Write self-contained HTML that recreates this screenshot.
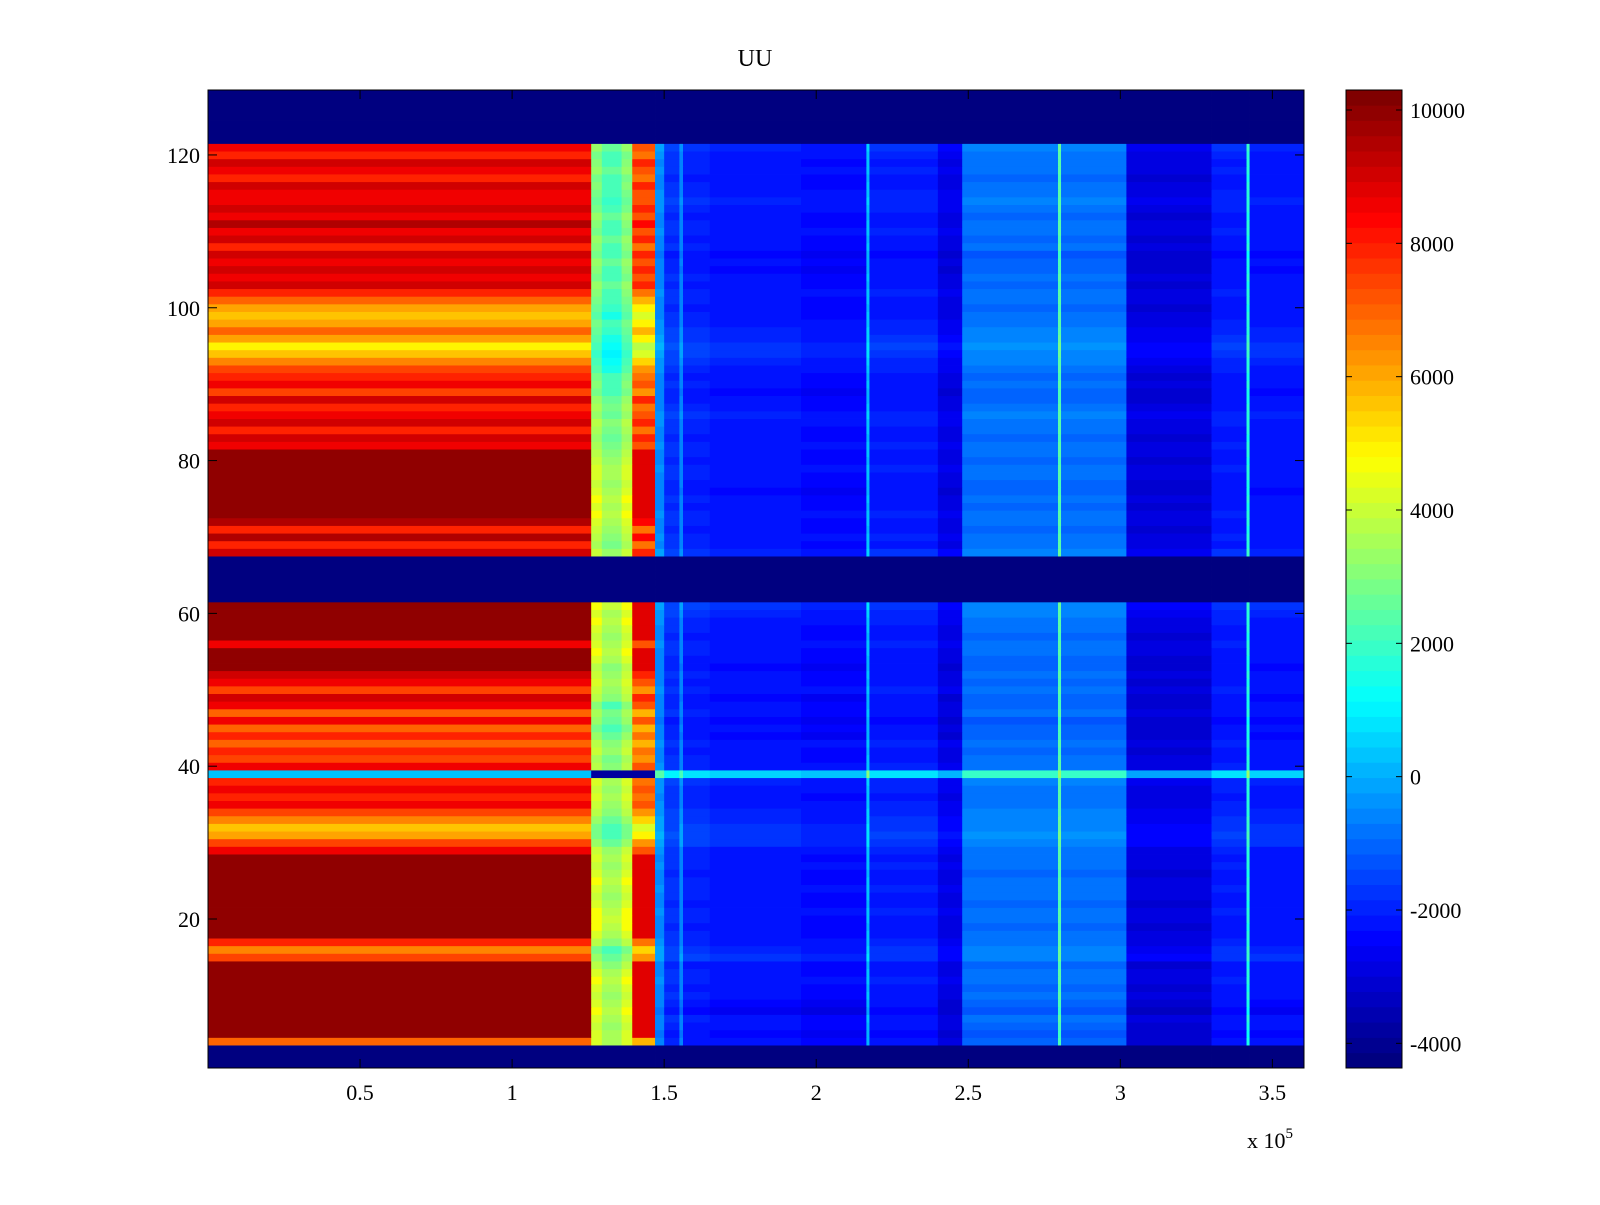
<!DOCTYPE html>
<html><head><meta charset="utf-8"><style>
html,body{margin:0;padding:0;background:#fff;}
svg text{font-family:"Liberation Serif",serif;fill:#000;}
</style></head><body>
<svg id="chart" width="1600" height="1200" xmlns="http://www.w3.org/2000/svg">
<rect width="1600" height="1200" fill="#fff"/>
<text x="755" y="66" font-size="24" text-anchor="middle">UU</text>
<g id="cells"></g>
<g id="axes"></g>
<g id="cbar"></g>
</svg>
<script>
// ---- data ----
const segEdges = [0,1.26,1.295,1.36,1.395,1.47,1.50,1.55,1.562,1.65,1.95,2.165,2.175,2.40,2.48,2.795,2.805,3.02,3.30,3.415,3.425,3.604];
const segKind  = ['red','mid','core','mid','dred','blue','blue','blue','blue','blue','blue','blue','blue','blue','blue','blue','blue','blue','blue','blue','blue'];
const segBlue  = [0,0,0,0,0,-300,-1600,-400,-1800,-2000,-2200,500,-1900,-2600,-700,2500,-700,-2700,-1900,1800,-2000];
const rowRed = [
-4300,-4300,-4300,7000,10000,10000,10000,10000,10000,10000,
10000,10000,10000,10000,7500,6500,8000,10000,10000,10000,
10000,10000,10000,10000,10000,10000,10000,10000,8500,7500,
6000,5500,6500,7500,8500,8000,8500,8000,0,8500,
7500,8000,7000,8000,7000,8500,7000,8500,9000,7500,
8500,9000,10000,10000,10000,8500,10000,10000,10000,10000,
10000,-4300,-4300,-4300,-4300,-4300,-4300,9000,8000,9500,
8000,9500,10000,10000,10000,10000,10000,10000,10000,10000,
10000,8500,9000,8000,9000,8500,8000,9000,7500,8500,
8000,7500,6500,5500,5000,6000,7000,6000,5500,6000,
7000,8000,9000,8500,9000,8500,9000,8000,9000,8500,
9500,8500,9000,8500,8500,9000,8000,8500,9000,8000,
8500,-4300,-4300,-4300,-4300,-4300,-4300,-4300];
const rowBlue = [
0,0,0,-300,-500,-300,-200,-600,-400,-200,-300,-100,-200,-300,200,100,-100,-200,-300,-200,
-100,-300,-200,-100,-200,-300,-100,-200,-100,200,300,200,100,0,-100,-200,-100,0,2600,-100,
-200,-300,-100,-400,-300,-500,-200,-300,-400,-100,-300,-200,-400,-300,-200,-100,-300,-200,-100,0,
200,0,0,0,0,0,0,100,-200,-100,-300,-200,-100,-300,-200,-400,-300,-200,-100,-300,
-200,-100,-300,-200,-100,0,-200,-300,-400,-200,-300,-100,0,200,300,100,0,-100,-200,-300,
-200,-100,-300,-200,-400,-300,-500,-200,-300,-100,-200,-300,-100,0,-100,-200,-300,-100,-200,-100,
100,0,0,0,0,0,0,0];
const rowMidFactor = [
0,0,0,0.45,0.45,0.42,0.45,0.48,0.45,0.42,0.45,0.48,0.45,0.4,0.35,0.3,0.4,0.45,0.48,0.5,
0.48,0.45,0.42,0.45,0.48,0.45,0.42,0.45,0.42,0.35,0.3,0.3,0.35,0.4,0.42,0.45,0.42,0.45,0,0.4,
0.38,0.42,0.4,0.35,0.3,0.35,0.38,0.32,0.4,0.42,0.45,0.42,0.4,0.45,0.48,0.45,0.42,0.45,0.48,0.45,
0.5,0,0,0,0,0,0,0.42,0.38,0.4,0.42,0.45,0.48,0.45,0.48,0.45,0.42,0.45,0.45,0.42,
0.4,0.38,0.35,0.38,0.4,0.35,0.38,0.35,0.3,0.32,0.3,0.25,0.22,0.2,0.22,0.25,0.28,0.3,0.25,0.28,
0.3,0.32,0.35,0.3,0.32,0.35,0.3,0.32,0.35,0.3,0.32,0.35,0.3,0.28,0.3,0.32,0.3,0.35,0.32,0.3,
0.35,0,0,0,0,0,0,0];
const xTicks = [0.5,1,1.5,2,2.5,3,3.5];
const xTickLabels = ['0.5','1','1.5','2','2.5','3','3.5'];
const yTicks = [20,40,60,80,100,120];
const cTicks = [-4000,-2000,0,2000,4000,6000,8000,10000];
const clim = [-4370,10300];
const xRange = [0,3.604], yRange=[0.5,128.5];
// ---- layout ----
const PX0=208,PX1=1304,PY0=90,PY1=1068, CB0=1346,CB1=1402;
const NS='http://www.w3.org/2000/svg';
const xs = v => PX0+(v-xRange[0])/(xRange[1]-xRange[0])*(PX1-PX0);
const ys = v => PY1-(v-yRange[0])/(yRange[1]-yRange[0])*(PY1-PY0);
const cs = v => PY1-(v-clim[0])/(clim[1]-clim[0])*(PY1-PY0);
function jet(t){
  t=Math.max(0,Math.min(1,t)); t=Math.min(63,Math.floor(t*64))/63;
  const f=x=>Math.round(255*Math.max(0,Math.min(1,x)));
  return `rgb(${f(1.5-Math.abs(4*t-3))},${f(1.5-Math.abs(4*t-2))},${f(1.5-Math.abs(4*t-1))})`;
}
const col = v => jet((v-clim[0])/(clim[1]-clim[0]));
function mk(tag,attrs,parent){const e=document.createElementNS(NS,tag);for(const k in attrs)e.setAttribute(k,attrs[k]);parent.appendChild(e);return e;}
function cellValue(r,s){
  const red=rowRed[r];
  if(red<=-4300) return -4300;
  const k=segKind[s];
  if(r===38){ if(k==='red') return 300; if(k==='blue') return Math.min(segBlue[s],800)+rowBlue[r]; return -3800; }
  if(k==='red') return red;
  if(k==='mid') return 4300*rowMidFactor[r]/0.45;
  if(k==='core') return 4300*rowMidFactor[r]/0.45-800;
  if(k==='dred') return red-1200;
  return segBlue[s]+rowBlue[r];
}
const cells=document.getElementById('cells');
for(let r=0;r<rowRed.length;r++){
  for(let s=0;s<segKind.length;s++){
    const x0=xs(segEdges[s]),x1=xs(segEdges[s+1]),y0=ys(r+1.5),y1=ys(r+0.5);
    const e=mk('rect',{x:x0.toFixed(2),y:y0.toFixed(2),width:(x1-x0+0.4).toFixed(2),height:(y1-y0+0.4).toFixed(2),fill:col(cellValue(r,s))},cells);
    
    
  }
}
const ax=document.getElementById('axes');
const fr=mk('rect',{x:PX0,y:PY0,width:PX1-PX0,height:PY1-PY0,fill:'none',stroke:'#000','stroke-width':1},ax);

xTicks.forEach((v,i)=>{
  const x=xs(v);
  mk('line',{x1:x,y1:PY1,x2:x,y2:PY1-9,stroke:'#000'},ax);
  mk('line',{x1:x,y1:PY0,x2:x,y2:PY0+9,stroke:'#000'},ax);
  const t=mk('text',{x:x,y:PY1+32,'font-size':22,'text-anchor':'middle'},ax);
  t.textContent=xTickLabels[i];
  
  
});
yTicks.forEach(v=>{
  const y=ys(v);
  mk('line',{x1:PX0,y1:y,x2:PX0+9,y2:y,stroke:'#000'},ax);
  mk('line',{x1:PX1,y1:y,x2:PX1-9,y2:y,stroke:'#000'},ax);
  const t=mk('text',{x:PX0-8,y:y+8,'font-size':22,'text-anchor':'end'},ax);
  t.textContent=String(v);
  
  
});
const xe=mk('text',{x:1247,y:1148,'font-size':22},ax);
xe.innerHTML='x 10<tspan dy="-10" font-size="15">5</tspan>';


// colorbar
const cb=document.getElementById('cbar');
for(let i=0;i<64;i++){
  const y0=PY1-(i+1)/64*(PY1-PY0), h=(PY1-PY0)/64;
  const e=mk('rect',{x:CB0,y:y0.toFixed(2),width:CB1-CB0,height:(h+0.4).toFixed(2),fill:jet(i/63)},cb);
  
  
}
mk('rect',{x:CB0,y:PY0,width:CB1-CB0,height:PY1-PY0,fill:'none',stroke:'#000'},cb);
cTicks.forEach(v=>{
  const y=cs(v);
  mk('line',{x1:CB0,y1:y,x2:CB0+6,y2:y,stroke:'#000'},cb);
  mk('line',{x1:CB1,y1:y,x2:CB1-6,y2:y,stroke:'#000'},cb);
  const t=mk('text',{x:CB1+8,y:y+8,'font-size':22},cb);
  t.textContent=String(v);
  
  
});
</script>
</body></html>
